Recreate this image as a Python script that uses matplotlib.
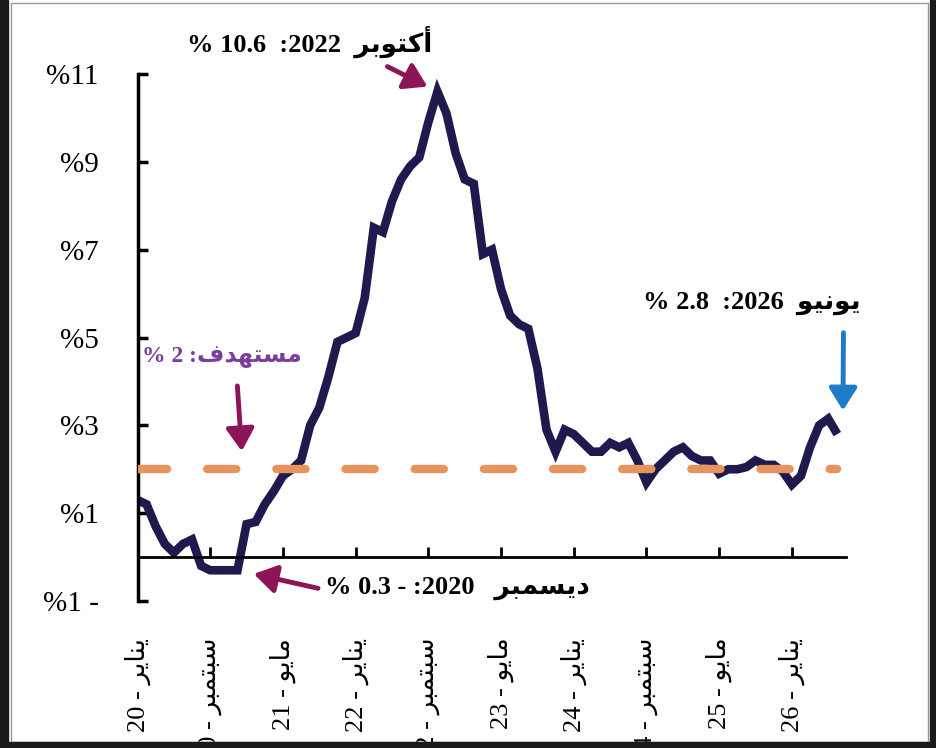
import numpy as np
import matplotlib
matplotlib.use("Agg")
import matplotlib.pyplot as plt
from matplotlib.patches import Rectangle

# بيانات التضخم الشهرية (يناير 2020 - يونيو 2026)
values_2020 = [1.3, 1.2, 0.7, 0.3, 0.1, 0.3, 0.4, -0.2, -0.3, -0.3, -0.3, -0.3]
values_2021 = [0.75, 0.8, 1.2, 1.5, 1.85, 2.0, 2.2, 3.0, 3.4, 4.1, 4.9, 5.0]
values_2022 = [5.1, 5.9, 7.5, 7.4, 8.1, 8.6, 8.9, 9.1, 9.9, 10.6, 10.1, 9.2]
values_2023 = [8.6, 8.5, 6.9, 7.0, 6.1, 5.5, 5.3, 5.2, 4.3, 2.9, 2.4, 2.9]
values_2024 = [2.8, 2.6, 2.4, 2.4, 2.6, 2.5, 2.6, 2.2, 1.7, 2.0, 2.2, 2.4]
values_2025 = [2.5, 2.3, 2.2, 2.2, 1.9, 2.0, 2.0, 2.05, 2.2, 2.1, 2.1, 1.95]
values_2026 = [1.65, 1.85, 2.5, 3.0, 3.15, 2.8]
target = 2.0

tick_months = ["يناير", "سبتمبر", "مايو", "يناير", "سبتمبر",
               "مايو", "يناير", "سبتمبر", "مايو", "يناير"]
tick_years = ["20", "20", "21", "22", "22", "23", "24", "24", "25", "26"]
y_ticks = [-1, 1, 3, 5, 7, 9, 11]

NAVY = "#1e1a4e"
ORANGE = "#e8925c"
MAROON = "#8c1457"
PURPLE = "#7a3f9d"
BLUE = "#1f7ac8"

# أشكال الحروف العربية (منفصل، نهائي، بداية، وسط)
FORMS = {
    "ا": (0xFE8D, 0xFE8E), "أ": (0xFE83, 0xFE84),
    "ب": (0xFE8F, 0xFE90, 0xFE91, 0xFE92), "ت": (0xFE95, 0xFE96, 0xFE97, 0xFE98),
    "د": (0xFEA9, 0xFEAA), "ر": (0xFEAD, 0xFEAE),
    "س": (0xFEB1, 0xFEB2, 0xFEB3, 0xFEB4), "ف": (0xFED1, 0xFED2, 0xFED3, 0xFED4),
    "ك": (0xFED9, 0xFEDA, 0xFEDB, 0xFEDC), "م": (0xFEE1, 0xFEE2, 0xFEE3, 0xFEE4),
    "ن": (0xFEE5, 0xFEE6, 0xFEE7, 0xFEE8), "ه": (0xFEE9, 0xFEEA, 0xFEEB, 0xFEEC),
    "و": (0xFEED, 0xFEEE), "ي": (0xFEF1, 0xFEF2, 0xFEF3, 0xFEF4),
}


def ar(word):
    """يشكل الكلمة العربية ويعكسها للعرض من اليسار لليمين."""
    out = []
    for i, ch in enumerate(word):
        f = FORMS.get(ch)
        if f is None:
            out.append(ch)
            continue
        prev_joins = i > 0 and len(FORMS.get(word[i - 1], ())) == 4
        next_joins = len(f) == 4 and i < len(word) - 1 and word[i + 1] in FORMS
        if prev_joins and next_joins:
            g = f[3]
        elif prev_joins:
            g = f[1]
        elif next_joins:
            g = f[2]
        else:
            g = f[0]
        out.append(chr(g))
    return "".join(reversed(out))


values = (values_2020 + values_2021 + values_2022 + values_2023
          + values_2024 + values_2025 + values_2026)
months = np.arange(len(values))
tick_pos = np.arange(len(tick_years)) * 8
tick_labels = [f"{y} - {ar(m)}" for m, y in zip(tick_months, tick_years)]
y_labels = [f"%{abs(v)}" + (" -" if v < 0 else "") for v in y_ticks]

plt.rcParams["font.family"] = ["Liberation Serif", "DejaVu Sans"]

fig = plt.figure(figsize=(9.36, 7.48), dpi=100)
ax = fig.add_axes([137.5 / 936, (748 - 601) / 748, 708 / 936, 527 / 748])

ax.plot(months, values, color=NAVY, lw=6.2, solid_joinstyle="miter",
        solid_capstyle="butt", zorder=2)
ax.plot(months, [target] * len(months), color=ORANGE, lw=6,
        dashes=(3.5, 4.8), dash_capstyle="round", zorder=3)

ax.set_xlim(0, 77.9)
ax.set_ylim(-1, 11)
ax.spines["top"].set_visible(False)
ax.spines["right"].set_visible(False)
ax.spines["left"].set_linewidth(2.5)
ax.spines["bottom"].set_linewidth(2)
ax.spines["bottom"].set_position(("data", 0))

ax.set_yticks(y_ticks, y_labels)
ax.set_xticks(tick_pos, tick_labels, rotation=90)
ax.tick_params(axis="y", direction="in", length=7, width=2.5, pad=28, labelsize=21)
ax.tick_params(axis="x", direction="in", length=7, width=2, pad=58, labelsize=19)

bold = dict(fontsize=19, fontweight="bold", textcoords="offset points", va="center")
arrow = dict(arrowstyle="-|>,head_length=0.4,head_width=0.25", lw=3.5,
             mutation_scale=34, shrinkA=0)

# الذروة
peak_i = int(np.argmax(values))
peak = (peak_i, values[peak_i])
ax.annotate(f"% {values[peak_i]}  :2022  {ar('أكتوبر')}", xy=peak,
            xytext=(-4, 36), ha="right", **bold)
ax.annotate("", xy=peak, xytext=(-36, 18), textcoords="offset points",
            arrowprops=dict(arrow, color=MAROON, shrinkB=8))

# أدنى مستوى ديسمبر 2020
dec_i = 11
dec = (dec_i, values[dec_i])
ax.annotate(f"% {abs(values[dec_i])} - :2020   {ar('ديسمبر')}", xy=dec,
            xytext=(63, -13), ha="left", **bold)
ax.annotate("", xy=dec, xytext=(58, -13), textcoords="offset points",
            arrowprops=dict(arrow, color=MAROON, shrinkB=12))

# المستهدف
tgt = (dec_i + 0.6, target)
ax.annotate(f"% {int(target)} :{ar('مستهدف')}", xy=tgt, xytext=(-15, 81),
            ha="center", color=PURPLE, **dict(bold, fontsize=17))
ax.annotate("", xy=tgt, xytext=(-4, 60), textcoords="offset points",
            arrowprops=dict(arrow, color=MAROON, shrinkB=13))

# آخر قراءة يونيو 2026
last = (months[-1], values[-1])
ax.annotate(f"% {values[-1]}  :2026  {ar('يونيو')}", xy=last,
            xytext=(17, 94), ha="right", **bold)
ax.annotate("", xy=(months[-1] + 0.6, values[-1]), xytext=(0.5, 73),
            textcoords="offset points",
            arrowprops=dict(arrow, color=BLUE, shrinkB=17))

# إطار الصورة
W, H = 936, 748
fig.add_artist(Rectangle((11 / W, 6 / H), 917 / W, 739 / H, fill=False,
                         edgecolor="#9a9a9a", lw=1, transform=fig.transFigure))
for x0, y0, w, h in [(0, 0, 8, H), (930, 0, 6, H), (0, 0, W, 6)]:
    fig.add_artist(Rectangle((x0 / W, y0 / H), w / W, h / H, color="#1a1a1a",
                             transform=fig.transFigure))

fig.savefig("out.png", dpi=100)
